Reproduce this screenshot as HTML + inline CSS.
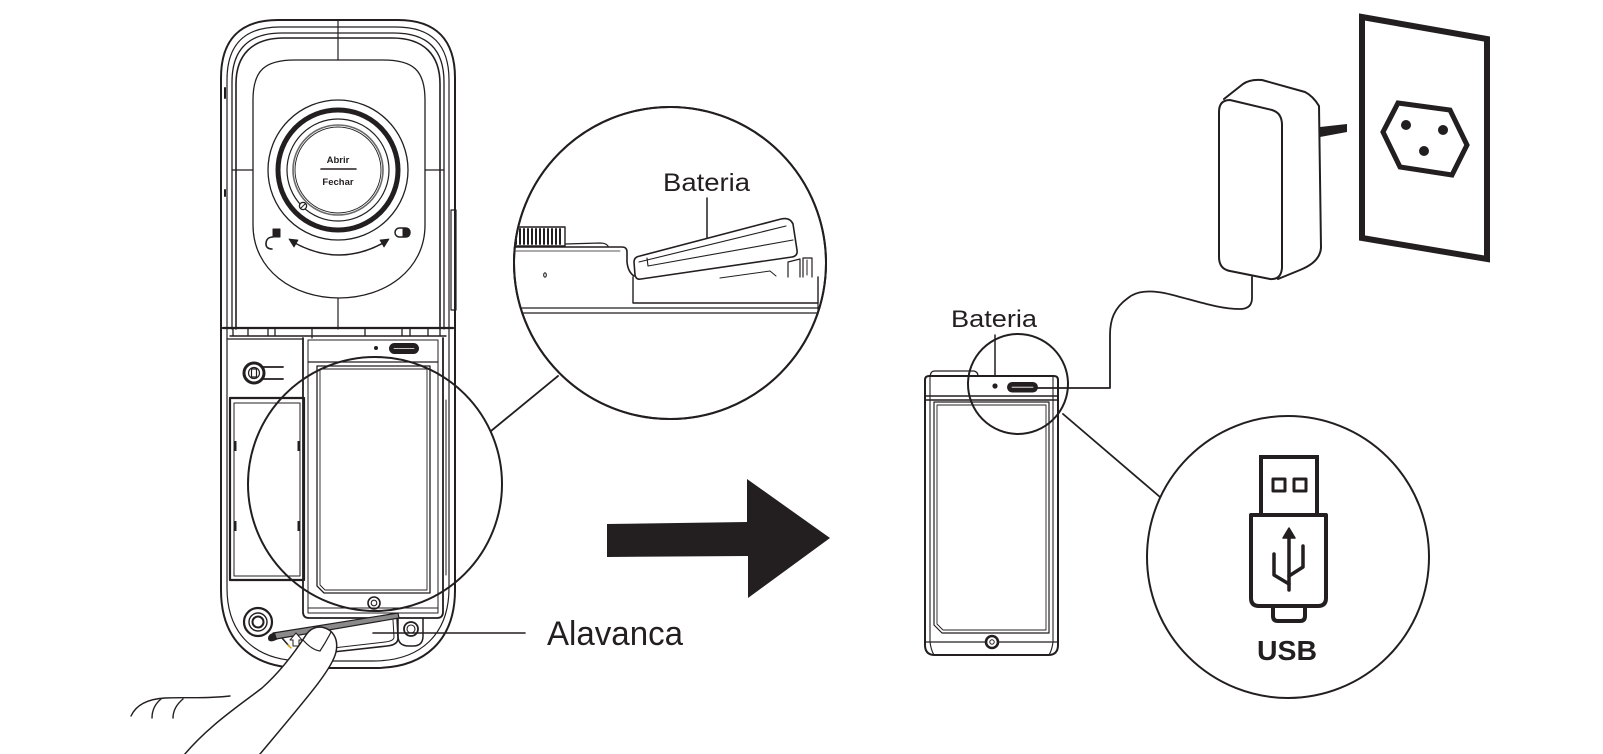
<!DOCTYPE html>
<html><head><meta charset="utf-8"><style>
html,body{margin:0;padding:0;background:#fff;}
svg{display:block;}
text{font-family:"Liberation Sans",Arial,sans-serif;fill:#231f20;}
</style></head><body>
<svg width="1603" height="754" viewBox="0 0 1603 754" xmlns="http://www.w3.org/2000/svg">
<defs>
<clipPath id="c1"><circle cx="670" cy="263" r="156"/></clipPath>
</defs>
<rect width="1603" height="754" fill="#fff"/>
<g fill="none" stroke="#231f20" stroke-linejoin="round" stroke-linecap="round">

<!-- ===== LEFT DEVICE ===== -->
<path d="M221,78 C221,40 240,20 278,20 L398,20 C436,20 455,40 455,78 L455,590 C455,640 425,668 375,668 L301,668 C251,668 221,640 221,590 Z" stroke-width="2"/>
<path d="M227,80 C227,45 244,27 280,27 L396,27 C432,27 449,45 449,80 L449,588 C449,634 421,661 373,661 L303,661 C255,661 227,634 227,588 Z" stroke-width="1.2"/>
<path d="M232,329 L232,82 C232,50 248,33 282,33 L394,33 C428,33 444,50 444,82 L444,329" stroke-width="1.3"/>
<path d="M236,329 L236,84 C236,55 252,38 284,38 L392,38 C424,38 440,55 440,84 L440,329" stroke-width="1.6"/>
<!-- side marks -->
<line x1="225" y1="88" x2="225" y2="98" stroke-width="2"/>
<line x1="225" y1="190" x2="225" y2="196" stroke-width="2"/>
<rect x="451" y="210" width="5" height="100" stroke-width="1.2"/>

<!-- dial panel -->
<path d="M253,100 C253,70 265,60 295,60 L383,60 C413,60 425,70 425,100 L425,225 C425,270 385,298 339,298 C293,298 253,270 253,225 Z" stroke-width="1.3"/>
<line x1="338" y1="20" x2="338" y2="60" stroke-width="1.2"/>
<line x1="338" y1="298" x2="338" y2="329" stroke-width="1.2"/>
<line x1="232" y1="170" x2="253" y2="170" stroke-width="1.2"/>
<line x1="425" y1="170" x2="444" y2="170" stroke-width="1.2"/>
<!-- dial -->
<circle cx="338" cy="170" r="70" stroke-width="1.3"/>
<circle cx="338" cy="170" r="60" stroke-width="5"/>
<circle cx="338" cy="170" r="51" stroke-width="1.2"/>
<circle cx="338" cy="170" r="45" stroke="#6a6a6a" stroke-width="1.6"/>
<circle cx="338" cy="170" r="43" stroke-width="0.9"/>
<circle cx="303" cy="206" r="3.6" fill="#fff" stroke-width="1.3"/>
<line x1="301" y1="208" x2="305" y2="204" stroke-width="1"/>
<line x1="321" y1="169" x2="356" y2="169" stroke-width="1.6"/>
<!-- lock icons & arrow -->
<rect x="273" y="229" width="7" height="8" fill="#231f20" stroke-width="1"/>
<path d="M273,237 C268,237 266,240 266,244 C266,247 268,249 272,249" stroke-width="1.6"/>
<rect x="395" y="228" width="15" height="9" rx="4.5" stroke-width="1.5"/>
<path d="M403,228 L406,228 Q410,228 410,232.5 Q410,237 406,237 L403,237 Z" fill="#231f20"/>
<path d="M293,242 Q339,268 385,242" stroke-width="1.5"/>
<path d="M289,239 L298,240 L294,247 Z" fill="#231f20" stroke-width="0.8"/>
<path d="M389,239 L380,240 L384,247 Z" fill="#231f20" stroke-width="0.8"/>

<!-- hinge band -->
<line x1="223" y1="328" x2="453" y2="328" stroke-width="2.2"/>
<line x1="230" y1="336" x2="446" y2="336" stroke-width="1.4"/>
<line x1="227" y1="339" x2="303" y2="339" stroke-width="1.2"/>
<g stroke-width="1.3">
<line x1="233" y1="328" x2="233" y2="336"/><line x1="248" y1="328" x2="248" y2="336"/>
<line x1="268" y1="328" x2="268" y2="336"/><line x1="275" y1="328" x2="275" y2="336"/>
<line x1="312" y1="328" x2="312" y2="338"/><line x1="365" y1="328" x2="365" y2="336"/>
<line x1="402" y1="328" x2="402" y2="336"/><line x1="410" y1="328" x2="410" y2="336"/>
<line x1="428" y1="328" x2="428" y2="336"/><line x1="440" y1="328" x2="440" y2="336"/>
</g>

<!-- battery compartment -->
<path d="M303,338 L303,612 Q303,618 309,618 L437,618 Q443,618 443,612 L443,338" stroke-width="1.8"/>
<rect x="308" y="340" width="130" height="273" stroke-width="1"/>
<line x1="446" y1="400" x2="446" y2="575" stroke-width="1"/>
<circle cx="376" cy="348" r="2" fill="#231f20" stroke="none"/>
<rect x="389" y="343" width="30" height="11" rx="5.5" fill="#231f20" stroke="none"/>
<line x1="394" y1="348.5" x2="414" y2="348.5" stroke="#fff" stroke-width="0.8"/>
<line x1="308" y1="362" x2="438" y2="362" stroke-width="1.2"/>
<path d="M317,366 L430,366 L430,593 L324,593 L317,586 Z" stroke-width="1.3"/>
<path d="M320,369 L427,369 L427,590 L325,590 L320,585 Z" stroke-width="0.9"/>
<circle cx="374" cy="603" r="6" stroke-width="1.6"/>
<circle cx="374" cy="603" r="2.8" stroke-width="1.1"/>
<line x1="308" y1="608" x2="438" y2="608" stroke-width="1"/>

<!-- left panel -->
<circle cx="254" cy="373" r="10" stroke-width="3"/>
<circle cx="254" cy="373" r="5.5" stroke-width="1.2"/>
<rect x="251.5" y="369" width="5" height="8" stroke-width="1.2"/>
<line x1="263" y1="367" x2="283" y2="367" stroke-width="1.8"/>
<line x1="263" y1="379" x2="283" y2="379" stroke-width="1.8"/>
<rect x="230" y="398" width="74" height="182" stroke-width="2.2"/>
<rect x="234" y="403" width="66" height="173" stroke-width="1"/>
<g fill="#231f20" stroke="none">
<rect x="234" y="441" width="2.5" height="10"/><rect x="234" y="521" width="2.5" height="10"/>
<rect x="297.5" y="441" width="2.5" height="10"/><rect x="297.5" y="521" width="2.5" height="10"/>
</g>

<!-- bottom buttons -->
<circle cx="258" cy="622" r="14" stroke-width="2.2"/>
<circle cx="258" cy="622" r="9" stroke-width="1.4"/>
<circle cx="258" cy="622" r="5.5" stroke-width="2"/>
<path d="M398,618 L398,636 Q398,646 409,646 L413,646 Q423,646 423,636 L423,618" stroke-width="1.5"/>
<circle cx="411" cy="629" r="7" stroke-width="1.8"/>
<circle cx="411" cy="629" r="4" stroke-width="1.1"/>

<!-- lever -->
<path d="M397,617 L398,638 Q398,645 387,646 L333,652" stroke-width="1.6"/>
<path d="M393,620 L394,637 Q394,641 385,642 L333,648" stroke-width="1"/>
<polygon points="273,633 398,613 399,618 276,639" fill="#8a8a8a" stroke-width="1.2"/>
<path d="M275,633 Q267,635 269,640 Q271,642 277,639" fill="#231f20" stroke-width="1.2"/>
<path d="M282,638 L289,646" stroke-width="1.5"/>
<line x1="288" y1="645" x2="291" y2="648" stroke="#d9a400" stroke-width="1.5"/>
<path d="M293,646 L293,640 L290,640 L296,633 L302,640 L299,640 L299,646 Z" fill="#fff" stroke-width="1"/>

<!-- Alavanca leader -->
<line x1="373" y1="633" x2="525" y2="633" stroke-width="1.6"/>

<!-- hand -->
<path d="M180,760 C205,728 240,705 262,688 C280,672 295,652 306,635 C310,629 315,627 320,627 C332,628 339,638 336,652 C332,670 305,700 255,760 Z" fill="#fff" stroke-width="1.5"/>
<path d="M303,640 Q312,650 320,651 Q326,642 331,632" stroke-width="1.2"/>
<path d="M131,716 C136,705 148,699 165,698 C185,697 205,699 230,696" stroke-width="1.4"/>
<path d="M161,699 C155,704 152,710 152,718" stroke-width="1.4"/>
<path d="M183,699 C177,704 173,710 173,718" stroke-width="1.4"/>

<!-- magnifier on left device -->
<circle cx="375" cy="484" r="127" stroke-width="2"/>
<line x1="491" y1="431" x2="558" y2="376" stroke-width="1.8"/>

<!-- ===== BIG CIRCLE DETAIL ===== -->
<circle cx="670" cy="263" r="156" fill="#fff" stroke-width="2"/>
<g clip-path="url(#c1)">
<rect x="508" y="227" width="57" height="19" stroke-width="1.4"/>
<g stroke-width="2">
<line x1="512" y1="229" x2="512" y2="244"/><line x1="516" y1="229" x2="516" y2="244"/>
<line x1="520" y1="229" x2="520" y2="244"/><line x1="524" y1="229" x2="524" y2="244"/>
<line x1="528" y1="229" x2="528" y2="244"/><line x1="532" y1="229" x2="532" y2="244"/>
<line x1="536" y1="229" x2="536" y2="244"/><line x1="540" y1="229" x2="540" y2="244"/>
<line x1="544" y1="229" x2="544" y2="244"/><line x1="548" y1="229" x2="548" y2="244"/>
<line x1="552" y1="229" x2="552" y2="244"/><line x1="556" y1="229" x2="556" y2="244"/>
<line x1="560" y1="229" x2="560" y2="244"/>
</g>
<path d="M565,244 L600,243 Q606,243 608,246" stroke-width="1.2"/>
<path d="M500,247 L622,247 Q627,247 627,252 L627,262 Q628,272 634,276" stroke-width="1.6"/>
<path d="M500,251 L620,251" stroke-width="0.8"/>
<ellipse cx="545" cy="275" rx="1.3" ry="2.2" stroke-width="1.1"/>
<path d="M633,277 L633,303 L818,303 L818,277" stroke-width="1.4"/>
<line x1="500" y1="308" x2="822" y2="308" stroke-width="1.3"/>
<line x1="500" y1="313" x2="822" y2="313" stroke-width="1.3"/>
<line x1="818" y1="303" x2="818" y2="313" stroke-width="1.2"/>
<path d="M634,262 Q634,257 640,256 L781,219 Q790,217 793,224 L797,250 Q798,256 792,257 L641,279 Q636,280 635,275 Z" fill="#fff" stroke-width="1.6"/>
<path d="M639,262 L786,226" stroke-width="1.1"/>
<path d="M647,258 L648,266 L793,240" stroke-width="1.1"/>
<path d="M720,278 L770,271 L776,276" stroke-width="1"/>
<path d="M788,277 L788,262 L800,259 L800,277" stroke-width="1.2"/>
<path d="M803,277 L803,258 L812,258 L812,277" stroke-width="1.2"/>
<line x1="807" y1="260" x2="807" y2="275" stroke-width="1"/>
</g>
<circle cx="670" cy="263" r="156" stroke-width="2"/>
<line x1="707" y1="198" x2="707" y2="238" stroke-width="1.5"/>

<!-- ===== ARROW ===== -->
<polygon points="607,524 747,522 747,479 830,538 748,598 748,556 607,557" fill="#231f20" stroke="none"/>

<!-- ===== RIGHT DEVICE ===== -->
<path d="M930,376 L931,373 Q932,371 935,371 L974,371 Q978,372 978,376" stroke-width="1.3"/>
<path d="M925,380 Q925,376 929,376 L1054,376 Q1058,376 1058,380 L1058,645 Q1058,655 1048,655 L935,655 Q925,655 925,645 Z" stroke-width="2"/>
<line x1="925" y1="396" x2="1058" y2="396" stroke-width="1.4"/>
<line x1="925" y1="400" x2="1058" y2="400" stroke-width="1.4"/>
<path d="M930,376 L930,642 Q931,650 934,655" stroke-width="1.1"/>
<path d="M1053,376 L1053,642 Q1052,650 1049,655" stroke-width="1.1"/>
<line x1="925" y1="642" x2="1058" y2="642" stroke-width="1.2"/>
<path d="M934,402 L1049,402 L1049,633 L942,633 L934,625 Z" stroke-width="1.2"/>
<path d="M937,405 L1046,405 L1046,630 L943,630 L937,624 Z" stroke-width="0.9"/>
<circle cx="992" cy="642" r="6" fill="#fff" stroke-width="2.6"/>
<circle cx="992" cy="642" r="2.2" stroke-width="1"/>
<circle cx="995" cy="386" r="2.6" fill="#231f20" stroke="none"/>
<rect x="1007" y="382" width="31" height="10.5" rx="5.2" fill="#231f20" stroke="none"/>
<line x1="1012" y1="387.2" x2="1033" y2="387.2" stroke="#fff" stroke-width="0.8"/>
<circle cx="1018" cy="384" r="50" stroke-width="2"/>
<line x1="995" y1="335" x2="995" y2="376" stroke-width="1.5"/>
<line x1="1063" y1="414" x2="1160" y2="497" stroke-width="1.8"/>

<!-- cable -->
<path d="M1252,277 L1252,298 C1252,306 1247,309 1240,309 C1220,309 1200,302 1180,297 C1160,291 1140,288 1128,298 C1114,308 1110,320 1110,335 L1110,388 L1038,388" stroke-width="1.8"/>

<!-- adapter -->
<path d="M1224,99 L1243,84 Q1250,79 1262,80 L1305,92 Q1313,96 1319,106 L1321,248 Q1320,262 1300,270 L1278,279" fill="#fff" stroke-width="2"/>
<path d="M1219,112 Q1219,100 1230,100 L1272,110 Q1282,113 1282,125 L1282,268 Q1281,280 1270,279 L1230,271 Q1219,269 1219,257 Z" fill="#fff" stroke-width="2"/>
<polygon points="1320,127 1347,124 1347,132 1320,137" fill="#231f20" stroke="none"/>

<!-- wall plate -->
<polygon points="1362,17 1487,39 1487,259 1362,238" fill="#fff" stroke-width="6" stroke-linejoin="miter"/>
<polygon points="1398,103 1450,110 1467,145 1452,175 1400,167 1383,132" stroke-width="5" stroke-linejoin="miter"/>
<circle cx="1406" cy="125" r="5" fill="#231f20" stroke="none"/>
<circle cx="1443" cy="130" r="5" fill="#231f20" stroke="none"/>
<circle cx="1424" cy="151" r="5" fill="#231f20" stroke="none"/>

<!-- USB circle -->
<circle cx="1288" cy="557" r="141" stroke-width="2"/>
<rect x="1261" y="457" width="56" height="58" stroke-width="4" stroke-linejoin="miter"/>
<rect x="1273" y="479" width="12" height="12" stroke-width="3"/>
<rect x="1294" y="479" width="12" height="12" stroke-width="3"/>
<path d="M1251,515 L1326,515 L1326,598 Q1326,606 1318,606 L1259,606 Q1251,606 1251,598 Z" stroke-width="4"/>
<path d="M1273,606 L1273,616 Q1273,621 1278,621 L1300,621 Q1305,621 1305,616 L1305,606" stroke-width="4"/>
<line x1="1289" y1="535" x2="1289" y2="590" stroke-width="3.5"/>
<path d="M1289,528 L1283,538 L1295,538 Z" fill="#231f20" stroke-width="1.5"/>
<path d="M1274,554 L1274,575 L1289,584" stroke-width="3.5"/>
<path d="M1303,546 L1303,567 L1289,576" stroke-width="3.5"/>
</g>

<!-- TEXT -->
<text x="338" y="163" font-size="9.5" font-weight="bold" text-anchor="middle">Abrir</text>
<text x="338" y="185" font-size="9.5" font-weight="bold" text-anchor="middle">Fechar</text>
<text x="663" y="191" font-size="25" textLength="87" lengthAdjust="spacingAndGlyphs">Bateria</text>
<text x="951" y="327" font-size="24" textLength="86" lengthAdjust="spacingAndGlyphs">Bateria</text>
<text x="547" y="645" font-size="34" textLength="136" lengthAdjust="spacingAndGlyphs">Alavanca</text>
<text x="1287" y="660" font-size="28" font-weight="bold" text-anchor="middle" textLength="60" lengthAdjust="spacingAndGlyphs">USB</text>
</svg>
</body></html>
